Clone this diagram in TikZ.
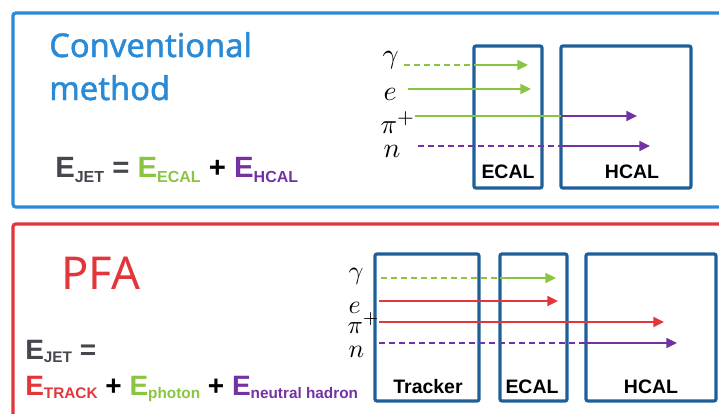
\documentclass[tikz,border=0pt]{standalone}
\usepackage{fontspec}
\newfontfamily\headfont{Noto Sans}
\newfontfamily\headfontmed[FakeBold=1.4]{Noto Sans}
\newfontfamily\eqfont{Liberation Sans}
\usepackage{tikz}
\usetikzlibrary{arrows.meta,positioning}

\definecolor{frameblue}{HTML}{2A8AD6}
\definecolor{boxblue}{HTML}{1E5F97}
\definecolor{pfared}{HTML}{E2363A}
\definecolor{ecalgreen}{HTML}{8AC541}
\definecolor{hcalpurple}{HTML}{7232A3}
\definecolor{jetgray}{HTML}{46464F}

% 添字付きの E（色, 添字, 添字の大きさ, 下げ幅）
\newcommand{\Eterm}[4]{\textcolor{#1}{E\raisebox{-#4}{\fontsize{#3}{#3}\selectfont #2}}}

\begin{document}
\begin{tikzpicture}[x=0.75pt,y=-0.75pt,
  calbox/.style={draw=boxblue,line width=2.4pt,rounded corners=1.5pt,inner sep=0pt,outer sep=0pt},
  boxlabel/.style={font=\eqfont\bfseries\fontsize{14.6}{17}\selectfont,inner sep=0pt,anchor=base},
  ptlabel/.style={inner sep=0pt,anchor=base west},
  eqtext/.style={inner sep=0pt,anchor=base west},
  track/.style={line width=1.4pt},
  dashtrack/.style={track,dash pattern=on 4.5pt off 3pt},
  headarrow/.style={-{Triangle[length=8pt,width=7.5pt]}}]
  \useasboundingbox (0,0) rectangle (719,414); % 図全体の範囲
  \clip (0,0) rectangle (719,414);
  \draw[frameblue,line width=2.4pt,rounded corners=2pt] (740,207) -- (13,207) -- (13,13) -- (740,13); % 従来法の枠
  \draw[pfared,line width=2.4pt,rounded corners=2pt] (740,224) -- (13,224) -- (13,440); % PFA の枠

  % 従来法
  \node[ptlabel,font=\headfontmed\fontsize{24.5}{29}\selectfont,text=frameblue] (convtitle) at (49,57) {Conventional};
  \node[ptlabel,font=\headfontmed\fontsize{24.5}{29}\selectfont,text=frameblue] (methtitle) at (49,100) {method};
  \node[eqtext,font=\eqfont\bfseries\fontsize{22}{26}\selectfont] (eqconv) at (55,177)
    {\Eterm{jetgray}{JET}{12pt}{3.75pt} \textcolor{jetgray}{=} \Eterm{ecalgreen}{ECAL}{12pt}{3.75pt} + \Eterm{hcalpurple}{HCAL}{12pt}{3.75pt}};

  \node[calbox,minimum width=51pt,minimum height=106.5pt] (ecalA) at (508,117) {}; % ECAL
  \node[calbox,minimum width=97.5pt,minimum height=106.5pt] (hcalA) at (626,117) {}; % HCAL
  \node[boxlabel] (ecalAlbl) at (508,178) {ECAL};
  \node[boxlabel] (hcalAlbl) at (632,178) {HCAL};

  \node[ptlabel,scale=2.1] (gamA) at (382,64) {$\gamma$};
  \node[ptlabel,scale=2.1] (eleA) at (383,100) {$e$};
  \node[ptlabel,scale=2.05] (pipA) at (380,133) {$\pi^{+}$};
  \node[ptlabel,scale=2.1] (neuA) at (383,157) {$n$};

  \coordinate (gamAs) at (404,65);  \coordinate (gamAe) at (528,65);
  \coordinate (eleAs) at (408,89);  \coordinate (eleAe) at (531,89);
  \coordinate (pipAs) at (415,116); \coordinate (pipAe) at (637,116);
  \coordinate (neuAs) at (418,146); \coordinate (neuAe) at (650,146);
  \draw[dashtrack,ecalgreen] (gamAs) -- (gamAs -| ecalA.west); % 光子は ECAL まで点線
  \draw[track,ecalgreen,headarrow] (gamAs -| ecalA.west) -- (gamAe);
  \draw[track,ecalgreen,headarrow] (eleAs) -- (eleAe); % 電子
  \draw[track,ecalgreen] (pipAs) -- (pipAs -| hcalA.west); % 荷電パイ中間子は ECAL 部分が緑
  \draw[track,hcalpurple,headarrow] (pipAs -| hcalA.west) -- (pipAe);
  \draw[dashtrack,hcalpurple] (neuAs) -- (neuAs -| hcalA.west); % 中性子は HCAL まで点線
  \draw[track,hcalpurple,headarrow] (neuAs -| hcalA.west) -- (neuAe);

  % PFA
  \node[ptlabel,font=\headfont\fontsize{34}{40}\selectfont,text=pfared] (pfatitle) at (61,289) {PFA};
  \node[eqtext,font=\eqfont\bfseries\fontsize{21}{25}\selectfont] (eqpfaA) at (25,359)
    {\Eterm{jetgray}{JET}{11.5pt}{2.5pt} \textcolor{jetgray}{=}};
  \node[eqtext,font=\eqfont\bfseries\fontsize{21}{25}\selectfont] (eqpfaB) at (25,395)
    {\Eterm{pfared}{TRACK}{11.5pt}{2.5pt} + \Eterm{ecalgreen}{photon}{11.5pt}{2.5pt} + \Eterm{hcalpurple}{neutral hadron}{11.5pt}{2.5pt}};

  \node[calbox,minimum width=78pt,minimum height=110.25pt] (trkB) at (427,327.5) {}; % 飛跡検出器
  \node[calbox,minimum width=50.25pt,minimum height=110.25pt] (ecalB) at (533.5,327.5) {}; % ECAL
  \node[calbox,minimum width=97.5pt,minimum height=110.25pt] (hcalB) at (651,327.5) {}; % HCAL
  \node[boxlabel] (trkBlbl) at (428,393) {Tracker};
  \node[boxlabel] (ecalBlbl) at (532,393) {ECAL};
  \node[boxlabel] (hcalBlbl) at (651,393) {HCAL};

  \node[ptlabel,scale=1.95] (gamB) at (348,279) {$\gamma$};
  \node[ptlabel,scale=1.95] (eleB) at (348,313) {$e$};
  \node[ptlabel,scale=1.9] (pipB) at (347,333) {$\pi^{+}$};
  \node[ptlabel,scale=1.95] (neuB) at (348,357) {$n$};

  \coordinate (gamBs) at (381,278); \coordinate (gamBe) at (556,278);
  \coordinate (eleBs) at (379,301); \coordinate (eleBe) at (558,301);
  \coordinate (pipBs) at (379,322); \coordinate (pipBe) at (664,322);
  \coordinate (neuBs) at (379,343); \coordinate (neuBe) at (677,343);
  \draw[dashtrack,ecalgreen] (gamBs) -- (gamBs -| ecalB.west); % 光子は ECAL まで点線
  \draw[track,ecalgreen,headarrow] (gamBs -| ecalB.west) -- (gamBe);
  \draw[track,pfared,headarrow] (eleBs) -- (eleBe); % 電子は飛跡で測る
  \draw[track,pfared,headarrow] (pipBs) -- (pipBe); % 荷電パイ中間子も飛跡で測る
  \draw[dashtrack,hcalpurple] (neuBs) -- (neuBs -| hcalB.west); % 中性子は HCAL まで点線
  \draw[track,hcalpurple,headarrow] (neuBs -| hcalB.west) -- (neuBe);
\end{tikzpicture}
\end{document}
